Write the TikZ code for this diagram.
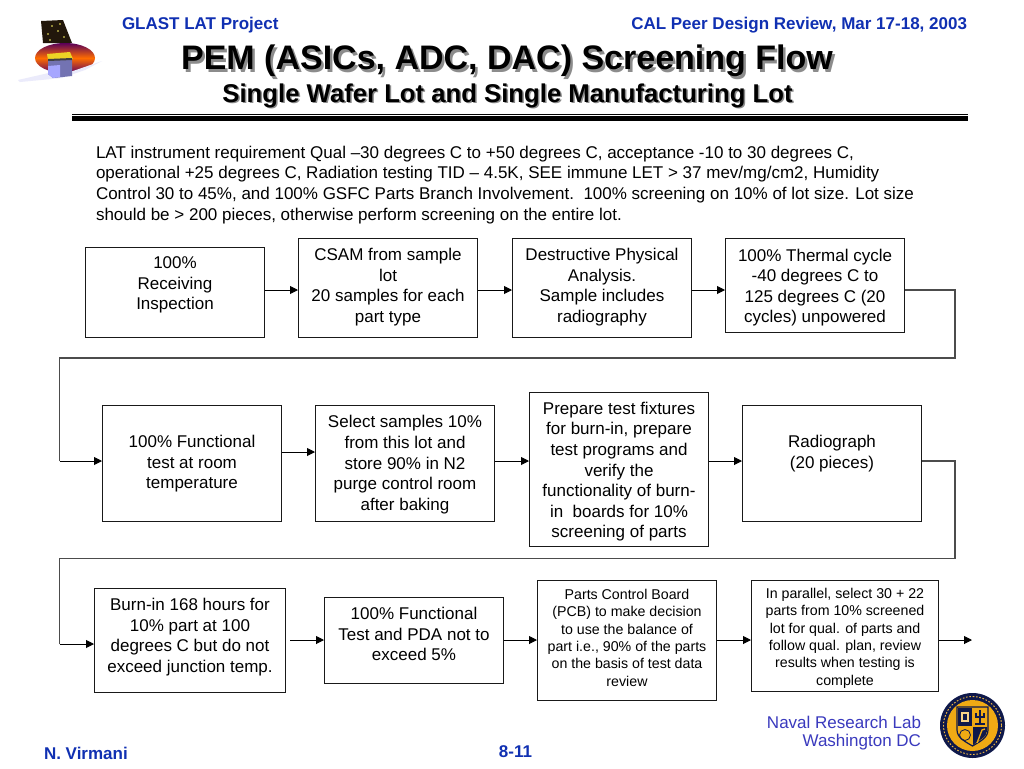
\documentclass[tikz,border=0pt]{standalone}
\usepackage{fontspec}
\setmainfont{Liberation Sans}
\usetikzlibrary{arrows.meta}
\newdimen\pxu \pxu=0.75pt
\definecolor{hdblue}{RGB}{16,48,178}
\definecolor{nrlblue}{RGB}{58,58,190}
\definecolor{gold}{RGB}{240,170,20}
\definecolor{navy}{RGB}{15,25,75}
\newcommand{\fsz}[1]{\fontsize{#1\pxu}{20.6\pxu}\selectfont}
\newcommand{\boxtext}[3]{\raisebox{#1\pxu}[0pt][0pt]{\parbox[c]{#2\pxu}{\centering\fsz{17}#3}}}
\newcommand{\smalltext}[3]{\raisebox{#1\pxu}[0pt][0pt]{\parbox[c]{#2\pxu}{\centering\fontsize{14.2\pxu}{17.3\pxu}\selectfont #3}}}
\tikzset{
  x=0.75pt,y=-0.75pt,
  pem/.style={draw=black!90,line width=0.75pt,fill=white,inner sep=0pt,text=black},
  flow/.style={draw=black,line width=0.7pt,-{Triangle[length=6pt,width=6pt]}},
  route/.style={draw=black!70,line width=0.8pt},
  plain/.style={inner sep=0pt,outer sep=0pt,text=black,align=center},
  hdr/.style={plain,text=hdblue,font=\bfseries\fsz{17}},
}
\begin{document}
\begin{tikzpicture}
\useasboundingbox (0,0) rectangle (1024,768);
\fill[white] (0,0) rectangle (1024,768);

% header
\node[hdr,anchor=base west] (proj) at (122,29) {GLAST LAT Project};
\node[hdr,anchor=base east] (rev) at (967,29) {CAL Peer Design Review, Mar 17-18, 2003};
\node[plain,text=black!45,font=\bfseries\fsz{34}] (titleS) at (509.5,63.5) {PEM (ASICs, ADC, DAC) Screening Flow};
\node[plain,font=\bfseries\fsz{34}] (title) at (507,61) {PEM (ASICs, ADC, DAC) Screening Flow};
\node[plain,text=black!45,font=\bfseries\fsz{25.7}] (subS) at (509,97) {Single Wafer Lot and Single Manufacturing Lot};
\node[plain,font=\bfseries\fsz{25.7}] (sub) at (507.5,95.5) {Single Wafer Lot and Single Manufacturing Lot};
\fill[black] (72,114) rectangle (968,115.2);
\fill[black] (72,116.4) rectangle (968,120.6);

% logo
\fill[black!82!brown] (41,21) -- (63,20) -- (72,43) -- (43,43) -- cycle;
\foreach \p in {(48,34),(52,26),(60,24),(58,31),(50,40),(64,37)} \fill[yellow!60!white] \p circle (0.9);
\shade[top color=violet!70!black,bottom color=violet!75!black,middle color=orange!85!red] (65,58) ellipse [x radius=30,y radius=15];
\fill[black!18!blue!8!white] (18,80) -- (53,72) -- (73,71) -- (102,61) -- (85,70) -- (62,78) -- (20,82) -- cycle;
\fill[blue!45!black!55!white] (48,60) -- (72,59) -- (72,76) -- (53,78) -- (48,74) -- cycle;
\fill[white!65!blue] (48,66) -- (60,65) -- (60,77) -- (53,78) -- (48,74) -- cycle;
\fill[yellow!70!brown] (47,54) -- (70,52) -- (73,59) -- (48,60) -- cycle;
\fill[black!75] (48,59) -- (72,58) -- (72,60) -- (48,61) -- cycle;

% intro
\node[plain,anchor=north west,align=left,font=\fsz{17}] (intro) at (96,146) {LAT instrument requirement Qual –30 degrees C to +50 degrees C, acceptance -10 to 30 degrees C,\\
operational +25 degrees C, Radiation testing TID – 4.5K, SEE immune LET > 37 mev/mg/cm2, Humidity\\
Control 30 to 45\%, and 100\% GSFC Parts Branch Involvement.\ \ 100\% screening on 10\% of lot size. Lot size\\
should be > 200 pieces, otherwise perform screening on the entire lot.};

% row 1
\node[pem,minimum width=179\pxu,minimum height=90\pxu] (a1) at (175,292) {\boxtext{3.5}{176}{100\%\\Receiving\\Inspection}};
\node[pem,minimum width=179\pxu,minimum height=99\pxu] (a2) at (388,287.5) {\boxtext{-3}{176}{CSAM from sample\\lot\\20 samples for each\\part type}};
\node[pem,minimum width=179\pxu,minimum height=99\pxu] (a3) at (602,287.5) {\boxtext{-3}{176}{Destructive Physical\\Analysis.\\Sample includes\\radiography}};
\node[pem,minimum width=179\pxu,minimum height=94\pxu] (a4) at (815,285) {\boxtext{-6}{176}{100\% Thermal cycle\\-40 degrees C to\\125 degrees C (20\\cycles) unpowered}};

% row 2
\node[pem,minimum width=179\pxu,minimum height=116\pxu] (b1) at (192,463) {\boxtext{-4}{176}{100\% Functional\\test at room\\temperature}};
\node[pem,minimum width=179\pxu,minimum height=116\pxu] (b2) at (405,463) {\boxtext{-5}{176}{Select samples 10\%\\from this lot and\\store 90\% in N2\\purge control room\\after baking}};
\node[pem,minimum width=179\pxu,minimum height=154\pxu] (b3) at (619,469) {\boxtext{-6}{176}{Prepare test fixtures\\for burn-in, prepare\\test programs and\\verify the\\functionality of burn-\\in\ \ boards for 10\%\\screening of parts}};
\node[pem,minimum width=179\pxu,minimum height=116\pxu] (b4) at (832,463) {\boxtext{6}{176}{Radiograph\\(20 pieces)}};

% row 3
\node[pem,minimum width=191\pxu,minimum height=104\pxu] (c1) at (190,640) {\boxtext{-0.5}{188}{Burn-in 168 hours for\\10\% part at 100\\degrees C but do not\\exceed junction temp.}};
\node[pem,minimum width=179\pxu,minimum height=86\pxu] (c2) at (414,640) {\boxtext{2.5}{176}{100\% Functional\\Test and PDA not to\\exceed 5\%}};
\node[pem,minimum width=179\pxu,minimum height=120\pxu] (c3) at (627,640) {\smalltext{-1}{176}{Parts Control Board\\(PCB) to make decision\\to use the balance of\\part i.e., 90\% of the parts\\on the basis of test data\\review}};
\node[pem,minimum width=187\pxu,minimum height=111\pxu] (c4) at (845,635.5) {\smalltext{-6}{184}{In parallel, select 30 + 22\\parts from 10\% screened\\lot for qual. of parts and\\follow qual. plan, review\\results when testing is\\complete}};

% connectors
\coordinate (e1) at (955,290);
\coordinate (e2) at (955,358);
\coordinate (e3) at (59.5,358);
\coordinate (e4) at (59.5,461);
\coordinate (f1) at (955,461);
\coordinate (f2) at (955,558.5);
\coordinate (f3) at (59.5,558.5);
\coordinate (f4) at (59.5,644);
\coordinate (c1out) at (290,640);
\coordinate (out) at (972,640);
\draw[flow] (a1.east |- 0,290) -- (a2.west |- 0,290);
\draw[flow] (a2.east |- 0,290) -- (a3.west |- 0,290);
\draw[flow] (a3.east |- 0,290) -- (a4.west |- 0,290);
\draw[route] (a4.east |- e1) -- (e1) -- (e2) -- (e3) -- (e4);
\draw[flow] (e4) -- (b1.west |- e4);
\draw[flow] (b1.east |- 0,452) -- (b2.west |- 0,452);
\draw[flow] (b2.east |- 0,461) -- (b3.west |- 0,461);
\draw[flow] (b3.east |- 0,461) -- (b4.west |- 0,461);
\draw[route] (b4.east |- f1) -- (f1) -- (f2) -- (f3) -- (f4);
\draw[flow] (f4) -- (c1.west |- f4);
\draw[flow] (c1out) -- (c2.west |- c1out);
\draw[flow] (c2.east |- 0,640) -- (c3.west |- 0,640);
\draw[flow] (c3.east |- 0,640) -- (c4.west |- 0,640);
\draw[flow] (c4.east |- out) -- (out);

% footer
\node[plain,anchor=base east,text=nrlblue,font=\fsz{17}] (nrl1) at (921,728) {Naval Research Lab};
\node[plain,anchor=base east,text=nrlblue,font=\fsz{17}] (nrl2) at (921,746) {Washington DC};
\node[hdr,anchor=base west] (auth) at (44,759) {N. Virmani};
\node[hdr,anchor=base] (page) at (515.5,757) {8-11};

% seal
\fill[navy] (972.5,725.5) circle (32.5);
\draw[gold!80!white,line width=0.7pt,dash pattern=on 1.2pt off 1.3pt] (972.5,725.5) circle (29);
\fill[gold] (972.5,725.5) circle (25.5);
\fill[gold,draw=navy,line width=0.9pt] (957,707) -- (988,707) -- (988,730) .. controls (988,738) and (979,742) .. (972.5,746) .. controls (966,742) and (957,738) .. (957,730) -- cycle;
\fill[navy] (958,708) rectangle (972,726);
\fill[navy] (973,727) -- (987,727) -- (987,731) .. controls (987,737) and (978,741) .. (973,745) -- cycle;
\fill[gold!50!white] (961,712) rectangle (969,722);
\fill[navy] (963,714) rectangle (967,720);
\draw[navy,line width=0.6pt] (965,735) circle (5.5);
\draw[navy,line width=0.8pt] (980,710) -- (980,724) (976,713) -- (976,717) -- (984,717) -- (984,713) (975,724) -- (985,724);
\draw[gold,line width=1pt] (977,743) -- (982,730) -- (985,729);
\end{tikzpicture}
\end{document}
